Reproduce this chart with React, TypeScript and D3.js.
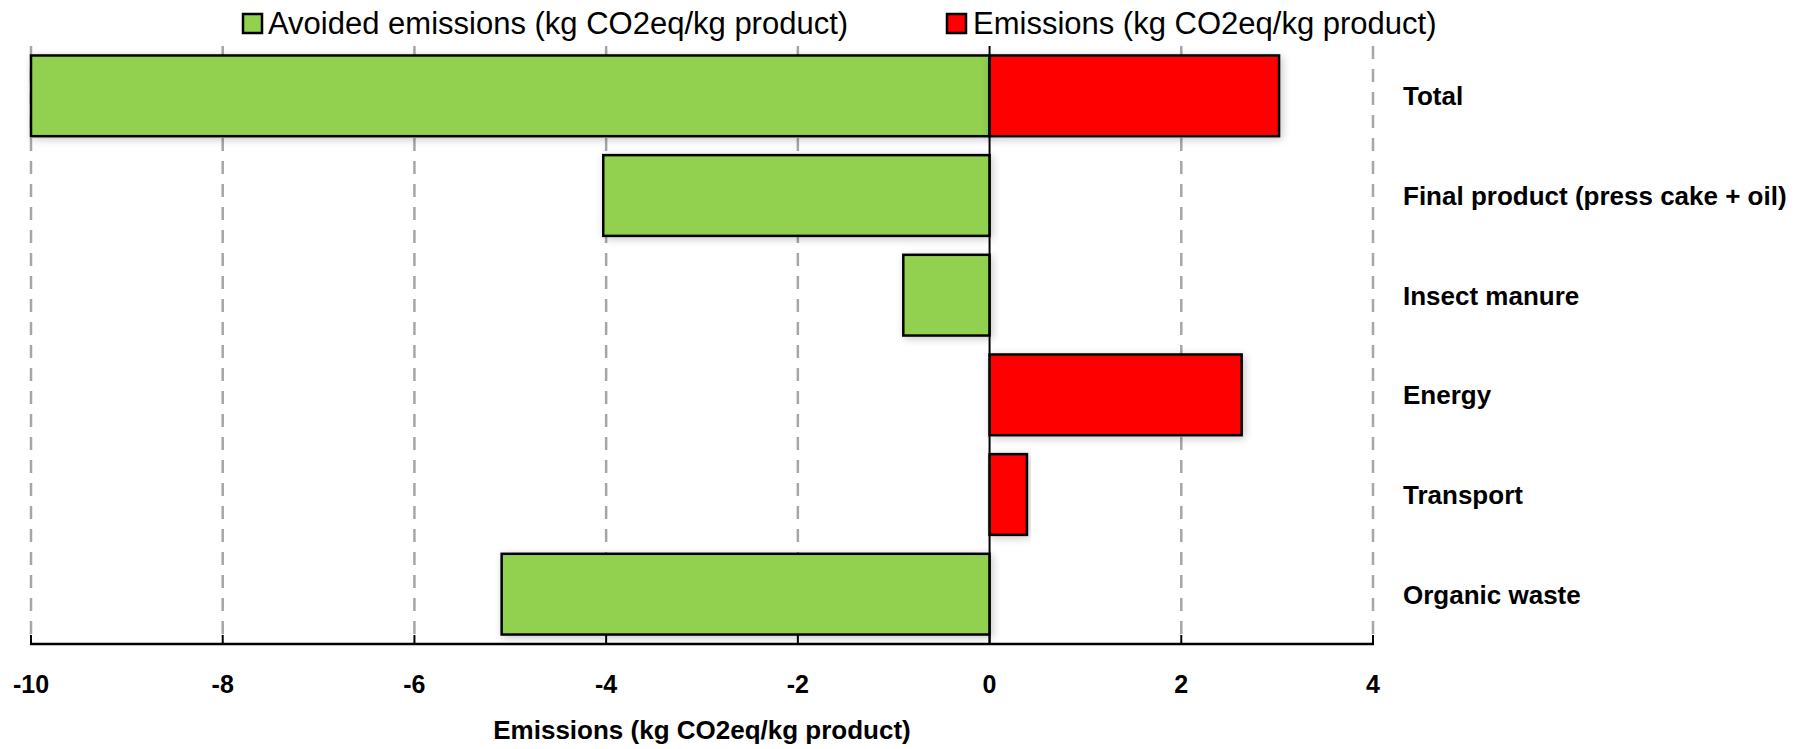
import React from "react";
import * as d3 from "d3";

const categories = [
  "Total",
  "Final product (press cake + oil)",
  "Insect manure",
  "Energy",
  "Transport",
  "Organic waste",
];
const avoided = [-10, -4.03, -0.9, 0, 0, -5.09];
const emissions = [3.02, 0, 0, 2.63, 0.39, 0];
const xTicks = [-10, -8, -6, -4, -2, 0, 2, 4];
const seriesNames = [
  "Avoided emissions (kg CO2eq/kg product)",
  "Emissions (kg CO2eq/kg product)",
];
const axisTitle = "Emissions (kg CO2eq/kg product)";

const W = 1812;
const H = 749;
const FONT = "'Liberation Sans', Arial, sans-serif";
const GREEN = "#92D050";
const RED = "#FF0000";

export default function App() {
  const top = 46;
  const bottom = 644;
  const x = d3.scaleLinear().domain([-10, 4]).range([31, 1373]);
  const y = d3
    .scaleBand<string>()
    .domain(categories)
    .range([top, bottom])
    .paddingInner(0.19)
    .paddingOuter(0.095);

  const bars: { cat: string; v: number; color: string }[] = [];
  categories.forEach((c, i) => {
    if (avoided[i] !== 0) bars.push({ cat: c, v: avoided[i], color: GREEN });
    if (emissions[i] !== 0) bars.push({ cat: c, v: emissions[i], color: RED });
  });

  const legend = [
    { name: seriesNames[0], color: GREEN, sx: 243, tx: 268 },
    { name: seriesNames[1], color: RED, sx: 947, tx: 973 },
  ];

  return (
    <svg
      width={W}
      height={H}
      style={{ position: "absolute", left: 0, top: 0, background: "#fff" }}
      fontFamily={FONT}
    >
      <defs>
        <filter id="sh" x="-10%" y="-30%" width="120%" height="160%">
          <feGaussianBlur in="SourceAlpha" stdDeviation="4" />
          <feOffset dx="2" dy="2" result="b" />
          <feComponentTransfer>
            <feFuncA type="linear" slope="0.22" />
          </feComponentTransfer>
          <feMerge>
            <feMergeNode />
            <feMergeNode in="SourceGraphic" />
          </feMerge>
        </filter>
      </defs>
      <rect x={0} y={0} width={W} height={H} fill="#fff" />
      {/* gridlines */}
      {xTicks
        .filter((t) => t !== 0)
        .map((t) => (
          <line
            key={"g" + t}
            x1={x(t)}
            x2={x(t)}
            y1={top}
            y2={bottom}
            stroke="#A6A6A6"
            strokeWidth={2.5}
            strokeDasharray="13,10"
          />
        ))}
      {/* bars */}
      {bars.map((b, i) => {
        const x0 = Math.min(x(0), x(b.v));
        const w = Math.abs(x(b.v) - x(0));
        return (
          <rect
            key={i}
            x={x0}
            y={y(b.cat)}
            width={w}
            height={y.bandwidth()}
            fill={b.color}
            stroke="#000"
            strokeWidth={2.5}
            filter="url(#sh)"
          />
        );
      })}
      {/* zero line */}
      <line x1={x(0)} x2={x(0)} y1={top} y2={bottom} stroke="#000" strokeWidth={2} />
      {/* x axis */}
      <line x1={x(-10) - 1} x2={x(4) + 1} y1={bottom} y2={bottom} stroke="#000" strokeWidth={2.5} />
      {xTicks.map((t) => (
        <g key={"t" + t}>
          <line x1={x(t)} x2={x(t)} y1={bottom} y2={bottom - 9} stroke="#000" strokeWidth={2} />
          <text
            x={x(t)}
            y={693}
            textAnchor="middle"
            fontWeight="bold"
            fontSize={25}
            fill="#000"
          >
            {t}
          </text>
        </g>
      ))}
      <text
        x={(x(-10) + x(4)) / 2}
        y={739}
        textAnchor="middle"
        fontWeight="bold"
        fontSize={26}
        fill="#000"
      >
        {axisTitle}
      </text>
      {/* category labels */}
      {categories.map((c) => (
        <text
          key={c}
          x={1403}
          y={(y(c) as number) + y.bandwidth() / 2 + 9.5}
          fontWeight="bold"
          fontSize={26}
          fill="#000"
        >
          {c}
        </text>
      ))}
      {/* legend */}
      {legend.map((l) => (
        <g key={l.name}>
          <rect x={l.sx} y={14} width={19} height={19} fill={l.color} stroke="#000" strokeWidth={2.5} />
          <text x={l.tx} y={34} fontSize={31} fill="#000">
            {l.name}
          </text>
        </g>
      ))}
    </svg>
  );
}
